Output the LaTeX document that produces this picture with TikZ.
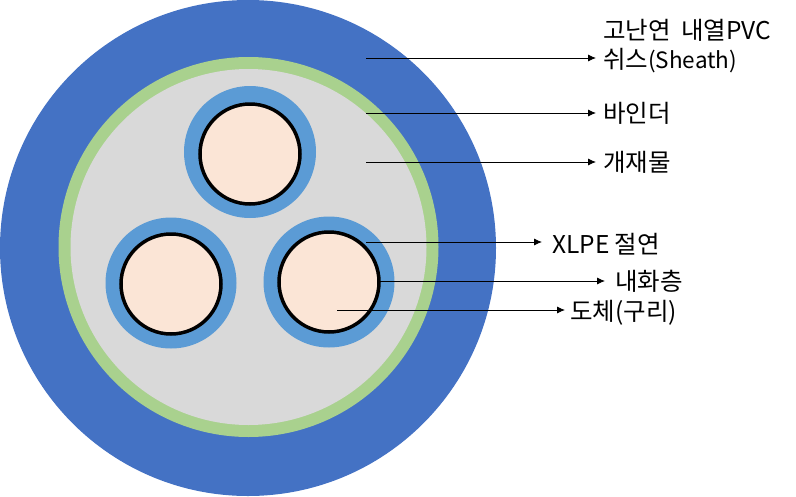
\documentclass[tikz,border=0pt]{standalone}
\usepackage{fontspec}
\setmainfont{Noto Sans CJK KR}
\usepackage{xcolor}
\usetikzlibrary{arrows.meta}
\definecolor{sheathblue}{HTML}{4472C4}
\definecolor{bindergreen}{HTML}{A9D18E}
\definecolor{fillergray}{HTML}{D9D9D9}
\definecolor{xlpeblue}{HTML}{5B9BD5}
\definecolor{copperpink}{HTML}{FBE5D6}
\tikzset{
  labeltext/.style={anchor=west,inner sep=0pt,align=left,font=\fontsize{24.5pt}{29pt}\selectfont},
  leader/.style={-{Latex[length=8pt,width=7pt]},line width=0.8pt,black},
  conductor/.style={draw=black,line width=3.5pt,fill=copperpink}
}

\begin{document}
\begin{tikzpicture}[x=1pt,y=1pt,yscale=-1,xscale=1]
    \useasboundingbox (0,0) rectangle (796,496);

    %Sheath, binder and filler
    \fill[sheathblue] (248,248) circle (248);
    \fill[bindergreen] (248.5,247) circle (190);
    \fill[fillergray] (248.5,247) circle (178);

    %Three cores
    \fill[xlpeblue] (250,152) circle (66);
    \draw[conductor] (250,154) circle (50);
    \fill[xlpeblue] (171,283) circle (65.5);
    \draw[conductor] (171,284) circle (50);
    \fill[xlpeblue] (329,282) circle (65.5);
    \draw[conductor] (329,282) circle (50);

    %Leader start points
    \coordinate (sheathstart) at (366,58);
    \coordinate (binderstart) at (366,113);
    \coordinate (fillerstart) at (366,162);
    \coordinate (xlpestart) at (366,242);
    \coordinate (firestart) at (379,281);
    \coordinate (copperstart) at (337,310);

    %Text nodes
    \node[labeltext] (sheathlabel) at (603,46.5) {고난연\hspace{5pt} 내열PVC\\쉬스{\fontsize{22.5pt}{29pt}\selectfont (Sheath)}};
    \node[labeltext] (binderlabel) at (603,113) {바인더};
    \node[labeltext] (fillerlabel) at (603,162) {개재물};
    \node[labeltext] (xlpelabel) at (552,244) {XLPE 절연};
    \node[labeltext] (firelabel) at (615,281) {내화층};
    \node[labeltext] (copperlabel) at (570,313) {도체(구리)};

    %Leaders
    \draw[leader] (sheathstart) -- ([xshift=-7pt]sheathlabel.west |- sheathstart);
    \draw[leader] (binderstart) -- ([xshift=-7pt]binderlabel.west);
    \draw[leader] (fillerstart) -- ([xshift=-7pt]fillerlabel.west);
    \draw[leader] (xlpestart) -- ([xshift=-10pt]xlpelabel.west |- xlpestart);
    \draw[leader] (firestart) -- ([xshift=-10pt]firelabel.west);
    \draw[leader] (copperstart) -- ([xshift=-5pt]copperlabel.west |- copperstart);
\end{tikzpicture}
\end{document}
